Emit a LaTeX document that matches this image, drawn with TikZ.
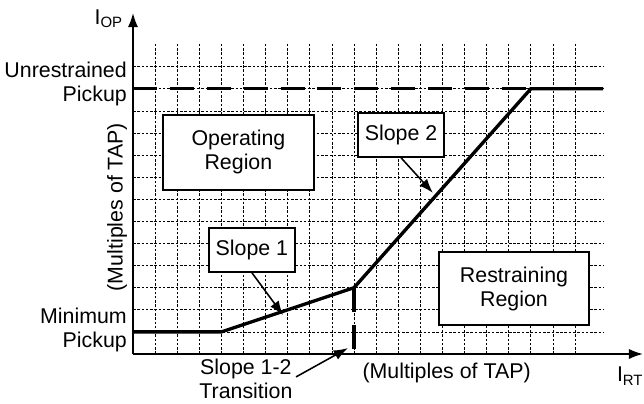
\documentclass[tikz,border=0pt]{standalone}
\usepackage{fontspec}
\setmainfont{Liberation Sans}
\usetikzlibrary{arrows.meta,positioning}

\begin{document}
\begin{tikzpicture}[x=0.6cm,y=0.6cm,>={Latex[length=11pt,width=8pt]},
  font=\fontsize{16.5}{18.5}\selectfont,
  gridline/.style={line width=0.6pt,dash pattern=on 2pt off 1.3pt},
  axisline/.style={->,line width=1.5pt},
  curve/.style={line width=2.6pt},
  longdash/.style={curve,dash pattern=on 18.5pt off 10pt},
  regionbox/.style={draw,line width=1.4pt,fill=white,align=center,inner sep=0pt},
  txt/.style={inner sep=0pt,align=center},
  callout/.style={->,line width=1.2pt}]
  \useasboundingbox (-6.018,-2.262) rectangle (23.122,16.018);
  % grid
  \foreach \i in {1,...,20}
    \draw[gridline] (\i,0) -- (\i,14.07);
  \foreach \j in {1,...,13}
    \draw[gridline] (0,\j) -- (21.27,\j);
  % axes
  \coordinate (origin) at (0,0);
  \coordinate (xend) at (23.08,0);
  \coordinate (yend) at (0,15.43);
  \draw[axisline] (origin) -- (xend);
  \draw[axisline] (origin) -- (yend);
  \node[txt,anchor=east] (iop) at (-0.45,15.16) {I\textsubscript{OP}};
  \node[txt,anchor=east] (irt) at (23.1,-1.0) {I\textsubscript{RT}};
  \node[txt,rotate=90] (ylabel) at (-0.72,6.65) {(Multiples of TAP)};
  \node[txt] (xlabel) at (14.19,-0.85) {(Multiples of TAP)};
  \node[txt,anchor=east,align=right] (unres) at (-0.27,12.2) {Unrestrained\\Pickup};
  \node[txt,anchor=east,align=right] (minpu) at (-0.27,1.09) {Minimum\\Pickup};
  % characteristic
  \coordinate (minstart) at (0,1);
  \coordinate (knee1) at (4,1);
  \coordinate (trans) at (10,3);
  \coordinate (knee2) at (18,12);
  \coordinate (curveend) at (21.27,12);
  \draw[curve] (minstart) -- (knee1) -- (trans) -- (knee2) -- (curveend);
  \draw[longdash] (0,12) -- (knee2);
  \draw[longdash] (trans) -- (trans |- origin);
  % regions and callouts
  \node[regionbox,minimum width=4.1cm,minimum height=2.03cm] (oper) at (4.77,9.12) {Operating\\Region};
  \node[regionbox,minimum width=4.07cm,minimum height=1.98cm] (restr) at (17.24,2.96) {Restraining\\Region};
  \node[regionbox,minimum width=2.33cm,minimum height=1.19cm] (slopeone) at (5.38,4.71) {Slope 1};
  \node[regionbox,minimum width=2.33cm,minimum height=1.19cm] (slopetwo) at (12.13,9.91) {Slope 2};
  \coordinate (onept) at (6.79,1.76);
  \coordinate (twopt) at (13.57,7.29);
  \coordinate (transpt) at (9.73,0.27);
  \draw[callout] (slopeone.south) -- (onept);
  \draw[callout] (slopetwo.south) -- (twopt);
  \node[txt] (translabel) at (5.11,-1.12) {Slope 1-2\\Transition};
  \draw[callout,shorten <=3pt] (translabel.east) -- (transpt);
\end{tikzpicture}
\end{document}
